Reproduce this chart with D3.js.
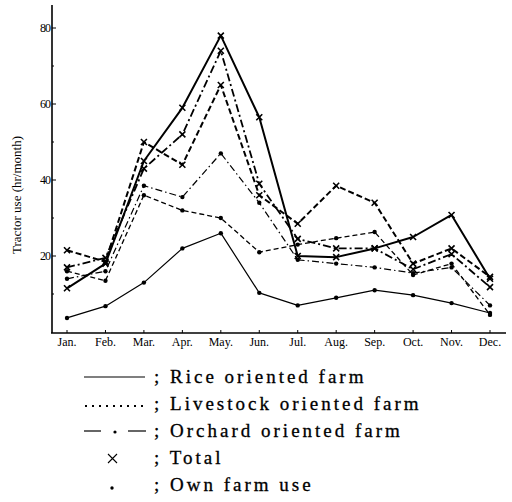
<!DOCTYPE html>
<html>
<head>
<meta charset="utf-8">
<script src="https://cdn.jsdelivr.net/npm/d3@7.9.0/dist/d3.min.js"></script>
<style>
  body { margin: 0; background: #fff; }
  svg { display: block; font-family: "Liberation Serif", "DejaVu Serif", serif; }
</style>
</head>
<body>
<svg id="chart" width="512" height="502"></svg>
<script>
const months = ['Jan.', 'Feb.', 'Mar.', 'Apr.', 'May.', 'Jun.', 'Jul.', 'Aug.', 'Sep.', 'Oct.', 'Nov.', 'Dec.'];
const yTicks = [20, 40, 60, 80];
const yMinorTicks = [10, 30, 50, 70];

// tractor use, hr/month
const riceTotal      = [11.5, 18, 45, 59, 78, 56.5, 20, 19.7, 22, 25, 30.8, 14];
const riceOwn        = [3.7, 6.8, 13, 22, 26, 10.3, 7, 9, 11, 9.7, 7.6, 5];
const livestockTotal = [21.5, 18.5, 50, 44, 65, 36, 28.5, 38.5, 34, 18, 22, 14.5];
const livestockOwn   = [16, 13.5, 36, 32, 30, 21, 23, 24.7, 26.3, 15, 18, 4.5];
const orchardTotal   = [17, 19.5, 43, 52, 74, 39, 24.5, 22, 22, 16.5, 20.5, 11.8];
const orchardOwn     = [14, 16, 38.5, 35.5, 47, 34, 19, 18, 17, 15.5, 17, 7];

const series = [
  { values: riceOwn, width: 1.2, dash: null, mark: 'dot' },
  { values: livestockOwn, width: 1.3, dash: '5,3', mark: 'dot' },
  { values: orchardOwn, width: 1.2, dash: '7,3,1.5,3', mark: 'dot' },
  { values: orchardTotal, width: 1.8, dash: '8,3,2,3', mark: 'cross' },
  { values: livestockTotal, width: 2, dash: '6,3', mark: 'cross' },
  { values: riceTotal, width: 2, dash: null, mark: 'cross' }
];

const svg = d3.select('#chart');

const x = d3.scalePoint().domain(months).range([67, 490]);
const y = d3.scaleLinear().domain([0, 80]).range([332, 28]);

// axes
svg.append('line')
  .attr('x1', 52).attr('x2', 52).attr('y1', 5).attr('y2', 333)
  .attr('stroke', '#000').attr('stroke-width', 1.6);
svg.append('line')
  .attr('x1', 51).attr('x2', 506).attr('y1', 333).attr('y2', 333)
  .attr('stroke', '#000').attr('stroke-width', 1.6);

svg.selectAll('.ytick')
  .data(yTicks)
  .join('line')
  .attr('x1', 52).attr('x2', 56)
  .attr('y1', (d) => y(d)).attr('y2', (d) => y(d))
  .attr('stroke', '#000').attr('stroke-width', 1);

svg.selectAll('.yminor')
  .data(yMinorTicks)
  .join('line')
  .attr('x1', 52).attr('x2', 54)
  .attr('y1', (d) => y(d)).attr('y2', (d) => y(d))
  .attr('stroke', '#000').attr('stroke-width', 1);

svg.selectAll('.ylabel')
  .data(yTicks)
  .join('text')
  .attr('x', 50).attr('y', (d) => y(d) + 4)
  .attr('text-anchor', 'end')
  .attr('font-size', 12)
  .attr('letter-spacing', -1)
  .text((d) => d);

svg.selectAll('.xtick')
  .data(months)
  .join('line')
  .attr('x1', (d) => x(d)).attr('x2', (d) => x(d))
  .attr('y1', 333).attr('y2', 330)
  .attr('stroke', '#000').attr('stroke-width', 1);

svg.selectAll('.xlabel')
  .data(months)
  .join('text')
  .attr('x', (d) => x(d)).attr('y', 346)
  .attr('text-anchor', 'middle')
  .attr('font-size', 12)
  .text((d) => d);

svg.append('text')
  .attr('transform', 'translate(21,195) rotate(-90)')
  .attr('text-anchor', 'middle')
  .attr('font-size', 13)
  .text('Tractor use (hr/month)');

// lines
const line = d3.line()
  .x((d, i) => x(months[i]))
  .y((d) => y(d));

series.forEach((s) => {
  svg.append('path')
    .attr('d', line(s.values))
    .attr('fill', 'none')
    .attr('stroke', '#000')
    .attr('stroke-width', s.width)
    .attr('stroke-dasharray', s.dash)
    .attr('stroke-linejoin', 'round');

  const g = svg.append('g');
  s.values.forEach((v, i) => {
    const cx = x(months[i]);
    const cy = y(v);
    if (s.mark === 'dot') {
      g.append('circle').attr('cx', cx).attr('cy', cy).attr('r', 2.2).attr('fill', '#000');
    } else {
      g.append('path')
        .attr('d', `M${cx - 3},${cy - 3}L${cx + 3},${cy + 3}M${cx - 3},${cy + 3}L${cx + 3},${cy - 3}`)
        .attr('stroke', '#000').attr('stroke-width', 1.6);
    }
  });
});

// legend
const legendItems = [
  { label: 'Rice oriented farm', kind: 'solid' },
  { label: 'Livestock oriented farm', kind: 'dotted' },
  { label: 'Orchard oriented farm', kind: 'dashdot' },
  { label: 'Total', kind: 'cross' },
  { label: 'Own farm use', kind: 'dot' }
];

const legend = svg.append('g').attr('transform', 'translate(0,377)');

legendItems.forEach((d, i) => {
  const ly = i * 27;
  if (d.kind === 'solid') {
    legend.append('line').attr('x1', 84).attr('x2', 145).attr('y1', ly).attr('y2', ly)
      .attr('stroke', '#000').attr('stroke-width', 1.2);
  } else if (d.kind === 'dotted') {
    legend.append('line').attr('x1', 85).attr('x2', 148).attr('y1', ly + 2).attr('y2', ly + 2)
      .attr('stroke', '#000').attr('stroke-width', 2).attr('stroke-dasharray', '2,5');
  } else if (d.kind === 'dashdot') {
    legend.append('line').attr('x1', 84).attr('x2', 101).attr('y1', ly).attr('y2', ly)
      .attr('stroke', '#000').attr('stroke-width', 1.2);
    legend.append('circle').attr('cx', 115).attr('cy', ly + 1).attr('r', 1.6).attr('fill', '#000');
    legend.append('line').attr('x1', 128).attr('x2', 146).attr('y1', ly).attr('y2', ly)
      .attr('stroke', '#000').attr('stroke-width', 1.2);
  } else if (d.kind === 'cross') {
    legend.append('path')
      .attr('d', `M${108},${ly - 4}L${117},${ly + 5}M${108},${ly + 5}L${117},${ly - 4}`)
      .attr('stroke', '#000').attr('stroke-width', 1.1);
  } else {
    legend.append('circle').attr('cx', 112).attr('cy', ly + 3).attr('r', 1.7).attr('fill', '#000');
  }
  legend.append('text')
    .attr('x', 154).attr('y', ly + 6)
    .attr('font-size', 19)
    .attr('letter-spacing', 3)
    .attr('stroke', '#000')
    .attr('stroke-width', 0.3)
    .text('; ' + d.label);
});
</script>
</body>
</html>
